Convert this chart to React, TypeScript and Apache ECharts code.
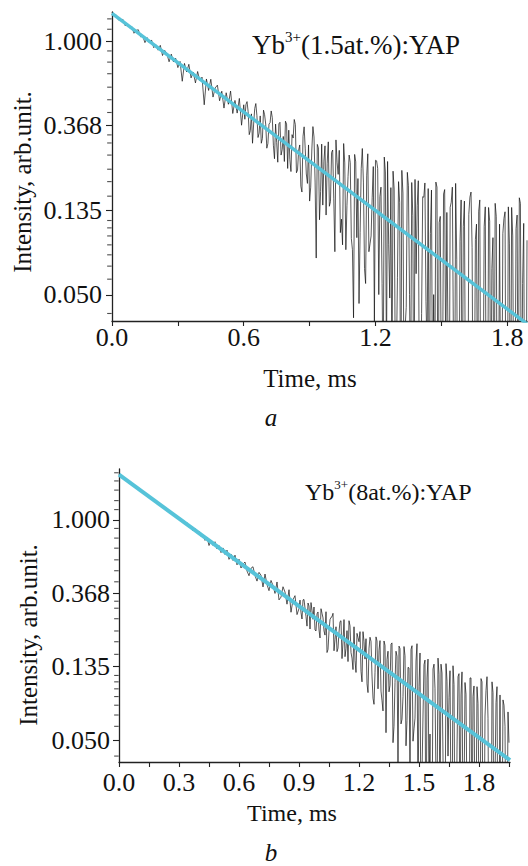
import React, { useEffect, useRef } from "react";
import * as echarts from "echarts";

// sampling step of the recorded decay curves (ms)
const DT = 0.01;
// extra (interleaved) samples start at these times, same step
const MID_START_A = 0.605;
const MID_START_B = 0.905;

// Panel a: Yb3+(1.5at.%):YAP, measured intensity, t = 0 ... 1.89 ms
const intensityA = [
  1.400, 1.343, 1.357, 1.282, 1.287, 1.292, 1.198, 1.225, 1.171, 1.189,
  1.097, 1.135, 1.143, 1.052, 1.062, 0.982, 1.042, 0.982, 1.013, 0.925,
  0.956, 0.898, 0.951, 0.843, 0.896, 0.860, 0.783, 0.857, 0.782, 0.816,
  0.731, 0.786, 0.622, 0.768, 0.694, 0.760, 0.647, 0.693, 0.610, 0.698,
  0.625, 0.653, 0.471, 0.639, 0.558, 0.637, 0.516, 0.575, 0.594, 0.494,
  0.553, 0.453, 0.543, 0.474, 0.554, 0.425, 0.496, 0.427, 0.508, 0.370,
  0.471, 0.473, 0.435, 0.347, 0.299, 0.451, 0.414, 0.337, 0.299, 0.442,
  0.375, 0.298, 0.382, 0.405, 0.249, 0.302, 0.376, 0.260, 0.324, 0.388,
  0.222, 0.247, 0.331, 0.396, 0.211, 0.275, 0.180, 0.325, 0.280, 0.186,
  0.151, 0.276, 0.322, 0.077, 0.283, 0.169, 0.144, 0.290, 0.236, 0.142,
  0.268, 0.155, 0.311, 0.207, 0.104, 0.090, 0.237, 0.143, 0.260, 0.097,
  0.038, 0.240, 0.197, 0.104, 0.281, 0.068, 0.205, 0.083, 0.100, 0.227,
  0.2445, 0.222, 0.159, 0.057, 0.254, 0.022, 0.090, 0.177, 0.215, 0.023,
  0.061, 0.149, 0.217, 0.015, 0.043, 0.181, 0.014, 0.127, 0.195, 0.143,
  0.011, 0.040, 0.158, 0.046, 0.175, 0.103, 0.011, 0.015, 0.178, 0.117,
  0.015, 0.164, 0.022, 0.031, 0.140, 0.178, 0.007, 0.076, 0.009, 0.153,
  0.112, 0.011, 0.005, 0.158, 0.087, 0.011, 0.115, 0.134, 0.006, 0.012,
  0.141, 0.005, 0.119, 0.068, 0.007, 0.126, 0.010, 0.014, 0.103, 0.133,
  0.007, 0.091, 0.140, 0.009, 0.109, 0.008, 0.147, 0.057, 0.006, 0.095,
];

// Panel a: interleaved samples, t = 0.605 ... 1.885 ms
const intensityAMid = [
  0.397, 0.489, 0.331, 0.423, 0.375, 0.478, 0.320, 0.413, 0.316, 0.419,
  0.282, 0.375, 0.438, 0.292, 0.375, 0.239, 0.383, 0.277, 0.241, 0.375,
  0.349, 0.214, 0.318, 0.373, 0.218, 0.293, 0.168, 0.363, 0.208, 0.293,
  0.178, 0.364, 0.189, 0.295, 0.121, 0.296, 0.242, 0.128, 0.304, 0.150,
  0.276, 0.083, 0.239, 0.275, 0.122, 0.298, 0.085, 0.202, 0.238, 0.085,
  0.262, 0.098, 0.045, 0.222, 0.189, 0.057, 0.264, 0.091, 0.158, 0.036,
  0.243, 0.050, 0.178, 0.015, 0.213, 0.241, 0.048, 0.016, 0.174, 0.022,
  0.190, 0.008, 0.166, 0.034, 0.212, 0.050, 0.188, 0.006, 0.064, 0.192,
  0.010, 0.159, 0.187, 0.025, 0.009, 0.172, 0.050, 0.189, 0.007, 0.126,
  0.014, 0.173, 0.132, 0.005, 0.149, 0.028, 0.186, 0.005, 0.094, 0.008,
  0.151, 0.010, 0.129, 0.168, 0.007, 0.096, 0.010, 0.153, 0.013, 0.112,
  0.006, 0.140, 0.009, 0.098, 0.147, 0.006, 0.115, 0.009, 0.123, 0.005,
  0.141, 0.005, 0.100, 0.009, 0.128, 0.157, 0.007, 0.116, 0.005,
];

// Panel b: Yb3+(8at.%):YAP, measured intensity, t = 0 ... 1.95 ms
const intensityB = [
  1.860, 1.804, 1.793, 1.738, 1.719, 1.660, 1.647, 1.600, 1.593, 1.537,
  1.526, 1.471, 1.467, 1.423, 1.415, 1.363, 1.356, 1.304, 1.298, 1.258,
  1.257, 1.198, 1.204, 1.155, 1.167, 1.115, 1.113, 1.061, 1.075, 1.029,
  1.033, 0.978, 0.998, 0.944, 0.965, 0.902, 0.919, 0.861, 0.888, 0.836,
  0.859, 0.798, 0.817, 0.756, 0.791, 0.705, 0.760, 0.706, 0.742, 0.673,
  0.704, 0.640, 0.682, 0.624, 0.662, 0.584, 0.627, 0.575, 0.618, 0.542,
  0.585, 0.519, 0.548, 0.563, 0.498, 0.467, 0.517, 0.528, 0.468, 0.434,
  0.489, 0.470, 0.401, 0.478, 0.414, 0.381, 0.438, 0.409, 0.367, 0.429,
  0.336, 0.349, 0.402, 0.374, 0.317, 0.386, 0.284, 0.337, 0.356, 0.275,
  0.2985, 0.282, 0.336, 0.301, 0.235, 0.309, 0.324, 0.258, 0.223, 0.278,
  0.223, 0.298, 0.263, 0.208, 0.164, 0.219, 0.265, 0.280, 0.196, 0.166,
  0.217, 0.253, 0.189, 0.155, 0.221, 0.253, 0.164, 0.130, 0.147, 0.213,
  0.190, 0.127, 0.218, 0.150, 0.107, 0.174, 0.191, 0.088, 0.125, 0.192,
  0.169, 0.097, 0.074, 0.181, 0.149, 0.096, 0.184, 0.048, 0.109, 0.156,
  0.179, 0.062, 0.090, 0.157, 0.065, 0.133, 0.171, 0.049, 0.067, 0.185,
  0.1035, 0.012, 0.070, 0.148, 0.116, 0.025, 0.008, 0.131, 0.100, 0.018,
  0.122, 0.140, 0.039, 0.012, 0.111, 0.089, 0.018, 0.137, 0.010, 0.044,
  0.123, 0.092, 0.015, 0.109, 0.018, 0.007, 0.116, 0.090, 0.014, 0.103,
  0.0215, 0.115, 0.014, 0.069, 0.118, 0.007, 0.005, 0.095, 0.029, 0.103,
  0.012, 0.007, 0.086, 0.060, 0.009, 0.048,
];

// Panel b: interleaved samples, t = 0.905 ... 1.945 ms
const intensityBMid = [
  0.335, 0.259, 0.338, 0.268, 0.322, 0.226, 0.291, 0.305, 0.220, 0.285,
  0.200, 0.280, 0.220, 0.286, 0.171, 0.257, 0.267, 0.168, 0.233, 0.174,
  0.250, 0.151, 0.257, 0.173, 0.145, 0.236, 0.152, 0.233, 0.125, 0.201,
  0.218, 0.110, 0.191, 0.198, 0.095, 0.202, 0.119, 0.081, 0.203, 0.100,
  0.193, 0.085, 0.192, 0.055, 0.167, 0.105, 0.187, 0.060, 0.167, 0.035,
  0.173, 0.066, 0.178, 0.046, 0.134, 0.032, 0.180, 0.058, 0.146, 0.019,
  0.163, 0.031, 0.139, 0.007, 0.150, 0.054, 0.012, 0.140, 0.029, 0.152,
  0.016, 0.124, 0.008, 0.141, 0.040, 0.128, 0.012, 0.106, 0.006, 0.118,
  0.012, 0.126, 0.020, 0.093, 0.007, 0.116, 0.010, 0.104, 0.013, 0.082,
  0.011, 0.110, 0.009, 0.098, 0.067, 0.006, 0.110, 0.009, 0.083, 0.007,
  0.092, 0.011, 0.080, 0.009, 0.073,
];

// single-exponential fits (end points)
const fitA = [
  [0, 1.387],
  [1.89, 0.0354],
];
const fitB = [
  [0, 1.85],
  [1.955, 0.0378],
];

// minor tick intensities on the ln-scaled axes
const minorTickValues = [
  0.04, 0.06, 0.07, 0.08, 0.09, 0.10, 0.11, 0.12,
  0.16, 0.19, 0.22, 0.26, 0.30, 0.33,
  0.43, 0.50, 0.58, 0.68, 0.78, 0.89,
  1.15, 1.30, 1.50, 1.70, 1.90,
];

const titleA = "(1.5at.%):YAP";
const titleB = "(8at.%):YAP";
const yName = "Intensity, arb.unit.";
const xName = "Time, ms";

const SERIF = "Liberation Serif";
const AXIS_COLOR = "#222";
const FIT_COLOR = "#56c3d9";

const GRID_A = { left: 112, top: 12, width: 415, height: 309 };
const GRID_B = { left: 119, top: 469, width: 391, height: 293 };

const merged = (main: number[], mid: number[], midStart: number) => {
  const pts: number[][] = main.map((v, i) => [+(i * DT).toFixed(4), v]);
  mid.forEach((v, j) => pts.push([+(midStart + j * DT).toFixed(4), v]));
  return pts.sort((p, q) => p[0] - q[0]);
};

const near = (v: number, step: number) => Math.abs(v / step - Math.round(v / step)) < 1e-6;

function xAxisCfg(grid: number, max: number, interval: number, labelStep: number, margin: number) {
  return {
    gridIndex: grid,
    type: "value",
    min: 0,
    max,
    interval,
    axisLine: { onZero: false, lineStyle: { color: AXIS_COLOR, width: 1.3 } },
    axisTick: { length: 5, lineStyle: { color: AXIS_COLOR, width: 1.1 } },
    splitLine: { show: false },
    axisLabel: {
      fontFamily: SERIF,
      fontSize: 26,
      color: "#111",
      margin,
      showMaxLabel: false,
      formatter: (v: number) => (near(v, labelStep) ? v.toFixed(1) : ""),
    },
  };
}

function yAxisCfg(grid: number, min: number, max: number, margin: number) {
  return {
    gridIndex: grid,
    type: "log",
    logBase: Math.E,
    min,
    max,
    position: "left",
    axisLine: { lineStyle: { color: AXIS_COLOR, width: 1.3 } },
    axisTick: { length: 6, lineStyle: { color: AXIS_COLOR, width: 1.1 } },
    splitLine: { show: false },
    axisLabel: {
      fontFamily: SERIF,
      fontSize: 26,
      color: "#111",
      margin,
      showMinLabel: false,
      showMaxLabel: false,
      formatter: (v: number) => v.toFixed(3),
    },
  };
}

// short minor tick marks on the left edge of a panel, placed through the axes
function minorTickSeries(axisIndex: number, min: number, max: number) {
  return {
    type: "scatter",
    xAxisIndex: axisIndex,
    yAxisIndex: axisIndex,
    silent: true,
    clip: false,
    symbol: "rect",
    symbolSize: [4.5, 1.1],
    symbolOffset: [-2.6, 0],
    itemStyle: { color: AXIS_COLOR },
    data: minorTickValues.filter((v) => v > min && v < max).map((v) => [0, v]),
    z: 1,
  };
}

function titleText(x: number, y: number, rest: string, size: number) {
  return {
    type: "text",
    x,
    y,
    style: {
      text: `{n|Yb}{s|3+}{n|${rest}}`,
      fill: "#111",
      textVerticalAlign: "middle",
      rich: {
        n: { fontFamily: SERIF, fontSize: size, lineHeight: size + 4, fill: "#111" },
        s: { fontFamily: SERIF, fontSize: Math.round(size * 0.56), lineHeight: 8, verticalAlign: "top", fill: "#111" },
      },
    },
  };
}

function plainText(x: number, y: number, text: string, size: number, opts: any = {}) {
  return {
    type: "text",
    x,
    y,
    rotation: opts.rotation || 0,
    style: {
      text,
      fill: "#111",
      fontFamily: SERIF,
      fontSize: size,
      fontStyle: opts.italic ? "italic" : "normal",
      textAlign: "center",
      textVerticalAlign: "middle",
    },
  };
}

export default function App() {
  const ref = useRef<HTMLDivElement>(null);

  useEffect(() => {
    if (!ref.current) return;
    const chart = echarts.init(ref.current, undefined, { renderer: "svg" });
    chart.setOption({
      animation: false,
      backgroundColor: "#fff",
      grid: [GRID_A, GRID_B],
      xAxis: [xAxisCfg(0, 1.89, 0.3, 0.6, 3), xAxisCfg(1, 1.955, 0.15, 0.3, 7)],
      yAxis: [yAxisCfg(0, 0.0366, 1.41, 10), yAxisCfg(1, 0.0369, 2.0, 9)],
      series: [
        minorTickSeries(0, 0.0366, 1.41),
        minorTickSeries(1, 0.0369, 2.0),
        {
          type: "line",
          xAxisIndex: 0,
          yAxisIndex: 0,
          data: merged(intensityA, intensityAMid, MID_START_A),
          showSymbol: false,
          clip: true,
          lineStyle: { color: "#111", width: 0.7 },
        },
        {
          type: "line",
          xAxisIndex: 0,
          yAxisIndex: 0,
          data: fitA,
          showSymbol: false,
          clip: true,
          lineStyle: { color: FIT_COLOR, width: 3.5 },
        },
        {
          type: "line",
          xAxisIndex: 1,
          yAxisIndex: 1,
          data: merged(intensityB, intensityBMid, MID_START_B),
          showSymbol: false,
          clip: true,
          lineStyle: { color: "#111", width: 0.7 },
        },
        {
          type: "line",
          xAxisIndex: 1,
          yAxisIndex: 1,
          data: fitB,
          showSymbol: false,
          clip: true,
          lineStyle: { color: FIT_COLOR, width: 4 },
        },
      ],
      graphic: [
        titleText(252, 45, titleA, 27),
        titleText(305, 492, titleB, 24),
        plainText(22, 182, yName, 25, { rotation: Math.PI / 2 }),
        plainText(28, 635, yName, 25, { rotation: Math.PI / 2 }),
        plainText(310, 378, xName, 25),
        plainText(292, 813, xName, 24),
        plainText(271, 417, "a", 25, { italic: true }),
        plainText(271, 852, "b", 25, { italic: true }),
      ],
    });
    return () => chart.dispose();
  }, []);

  return (
    <div
      ref={ref}
      style={{ position: "absolute", left: 0, top: 0, width: 528, height: 866, background: "#fff" }}
    />
  );
}
